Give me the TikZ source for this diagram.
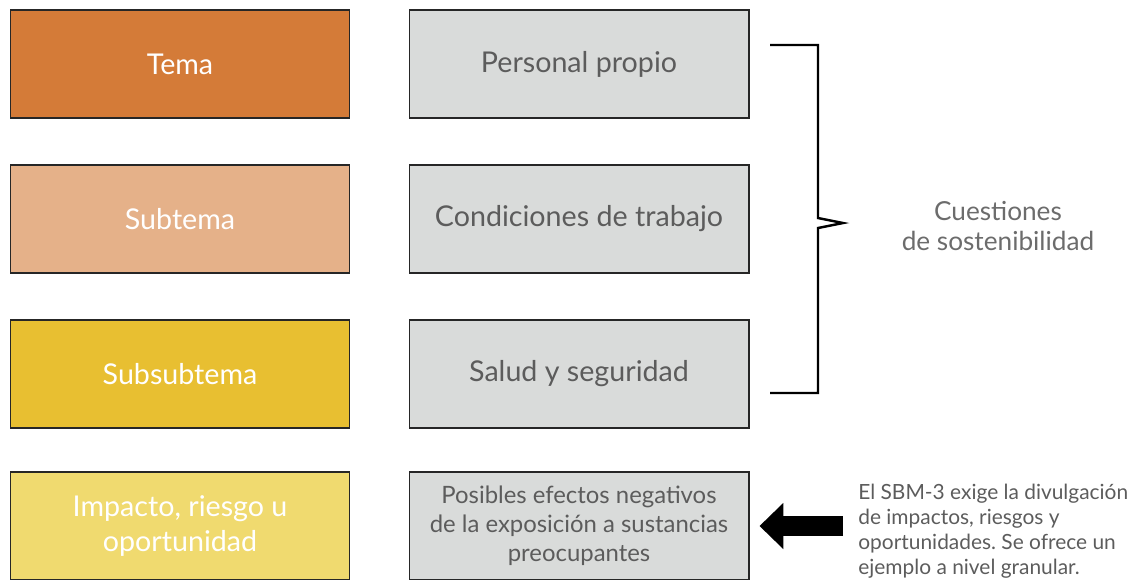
\documentclass[tikz,border=0pt]{standalone}
\usepackage{fontspec}
\setmainfont{Lato}
\usepackage{tikz}
\usetikzlibrary{arrows.meta}
\frenchspacing

\definecolor{temaC}{HTML}{D47B38}
\definecolor{subtemaC}{HTML}{E5B189}
\definecolor{subsubC}{HTML}{E8BF31}
\definecolor{impactoC}{HTML}{F0DA6F}
\definecolor{cuestC}{HTML}{D9DBDA}
\definecolor{txtgray}{HTML}{5C5C5C}

\tikzset{
    levelbox/.style={draw=black!85, line width=0.6pt, minimum width=6.8cm, minimum height=2.16cm,
        text=white, align=center, font=\fontsize{16.3}{19.5}\selectfont},
    examplebox/.style={levelbox, fill=cuestC, text=txtgray},
    bigarrow/.style={line width=11.3pt, -{Triangle[length=13.6pt, width=25.5pt]}}
}

\begin{document}
\begin{tikzpicture}[x=0.02cm, y=-0.02cm]
    \useasboundingbox (0,0) rectangle (1136,579);

    % Levels on the left
    \node[levelbox, fill=temaC] (tema) at (180,64) {Tema};
    \node[levelbox, fill=subtemaC] (subtema) at (180,219) {Subtema};
    \node[levelbox, fill=subsubC] (subsub) at (180,374) {Subsubtema};
    \node[levelbox, fill=impactoC] (impacto) at (180,526) {Impacto, riesgo u\\oportunidad};

    % Example for each level
    \node[examplebox] (personal) at (579,64) {Personal propio};
    \node[examplebox] (condiciones) at (579,219) {Condiciones de trabajo};
    \node[examplebox] (salud) at (579,374) {Salud y seguridad};
    \node[examplebox, font=\fontsize{13.6}{16.5}\selectfont] (efectos) at (579,526)
        {Posibles efectos negativos\\de la exposición a sustancias\\preocupantes};

    % Bracket over the first three examples
    \draw[line width=1.4pt] (770,45) -- (818,45) -- (818,218) -- (843,223) -- (818,228) -- (818,393) -- (770,393);
    \node[text=txtgray!90, align=center, font=\fontsize{14.9}{17}\selectfont] (cuestiones) at (998,226)
        {Cuestiones\\de sostenibilidad};

    % Note and arrow
    \node[anchor=north west, inner sep=0pt, text=txtgray, align=left, font=\fontsize{11.9}{14.2}\selectfont] (nota) at (858,484)
        {El SBM-3 exige la divulgación\\de impactos, riesgos y\\oportunidades. Se ofrece un\\ejemplo a nivel granular.};
    \coordinate (arrowstart) at (843,526);
    \draw[bigarrow] (arrowstart) -- ([xshift=0.2cm]efectos.east |- arrowstart);
\end{tikzpicture}
\end{document}
